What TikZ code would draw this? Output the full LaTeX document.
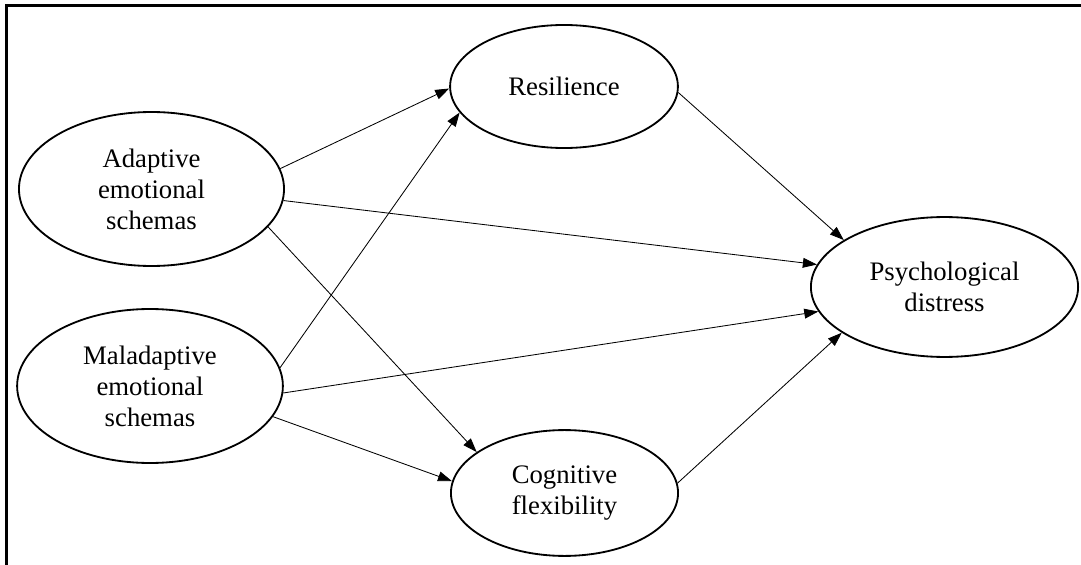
\documentclass[tikz,border=0pt]{standalone}
\usepackage{fontspec}
\setmainfont{Liberation Serif}
\usepackage{tikz}
\usetikzlibrary{positioning,shapes,arrows.meta}

\begin{document}
\begin{tikzpicture}[
          x=0.025cm,y=-0.025cm,
          var/.style={ellipse,draw,line width=1.3pt,inner sep=0pt,align=center,
            font=\fontsize{19}{22}\selectfont},
          effect/.style={-{Triangle[length=10pt,width=7pt]},line width=0.6pt}
          ]
          \useasboundingbox (0,0) rectangle (1081,565);
          % the frame
          \draw[line width=1.6pt] (6.5,565) -- (6.5,5.5) -- (1081,5.5);
          % the schemas
          \node[var,minimum width=188.5pt,minimum height=109.5pt] (ad) at (151.5,189) {Adaptive\\emotional\\schemas};
          \node[var,minimum width=189pt,minimum height=109.5pt] (mal) at (150,386) {Maladaptive\\emotional\\schemas};
          % the mediators
          \node[var,minimum width=162pt,minimum height=87.5pt] (res) at (564,86.5) {Resilience};
          \node[var,minimum width=161.5pt,minimum height=89.5pt] (cog) at (564.5,493) {Cognitive\\flexibility};
          % the outcome
          \node[var,minimum width=190pt,minimum height=99.5pt] (psy) at (944.5,287) {Psychological\\distress};
          % the paths
          \foreach \from/\to in {ad.9/res.181, ad.-5/psy.170, ad.-18/cog.155,
                                 mal.8/res.194, mal.-3/psy.191, mal.-14/cog.174,
                                 res.-3/psy.155, cog.5/psy.204}
            \draw[effect] (\from) -- (\to);
\end{tikzpicture}
\end{document}
